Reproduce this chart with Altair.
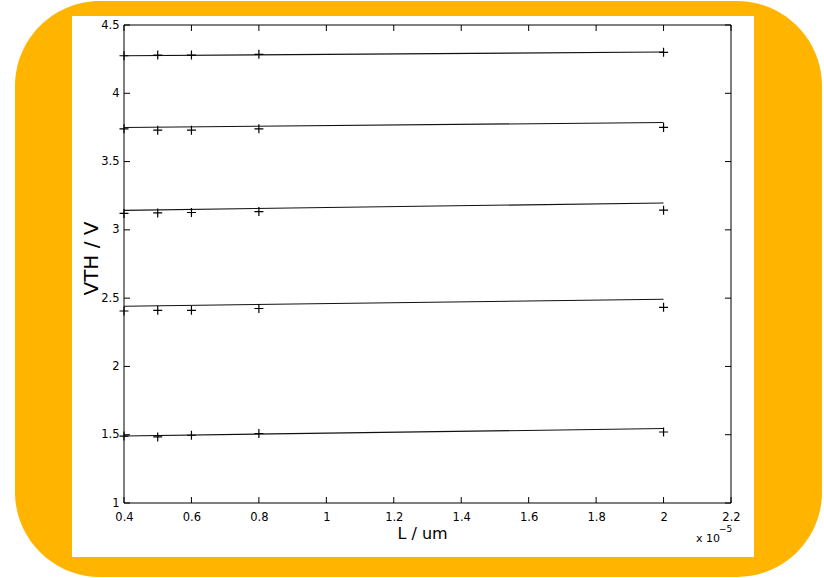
import altair as alt
import pandas as pd

# ---- data ----
x_meas = [0.4, 0.5, 0.6, 0.8, 2.0]
meas_1 = [4.275, 4.28, 4.28, 4.285, 4.30]
meas_2 = [3.74, 3.73, 3.73, 3.74, 3.75]
meas_3 = [3.12, 3.124, 3.127, 3.134, 3.144]
meas_4 = [2.406, 2.411, 2.411, 2.424, 2.433]
meas_5 = [1.49, 1.484, 1.496, 1.509, 1.52]

x_fit = [0.4, 2.0]
fit_1 = [4.275, 4.302]
fit_2 = [3.75, 3.786]
fit_3 = [3.143, 3.197]
fit_4 = [2.441, 2.492]
fit_5 = [1.491, 1.545]

x_ticks = [0.4, 0.6, 0.8, 1.0, 1.2, 1.4, 1.6, 1.8, 2.0, 2.2]
y_ticks = [1.0, 1.5, 2.0, 2.5, 3.0, 3.5, 4.0, 4.5]

meas = [meas_1, meas_2, meas_3, meas_4, meas_5]
fits = [fit_1, fit_2, fit_3, fit_4, fit_5]

meas_df = pd.DataFrame(
    [{"L": x, "VTH": v, "s": i} for i, vals in enumerate(meas) for x, v in zip(x_meas, vals)]
)
fit_df = pd.DataFrame(
    [{"L": x, "VTH": v, "s": i} for i, vals in enumerate(fits) for x, v in zip(x_fit, vals)]
)
xt_df = pd.DataFrame({"t": x_ticks})
yt_df = pd.DataFrame({"t": y_ticks})
one = pd.DataFrame({"a": [0]})

W, H = 607, 478
FONT = "DejaVu Sans"

xs = alt.Scale(domain=[0.4, 2.2], nice=False, zero=False)
ys = alt.Scale(domain=[1, 4.5], nice=False, zero=False)

x_axis = alt.Axis(
    values=x_ticks, format="~g", ticks=False, tickSize=0, domain=False, grid=False,
    labelPadding=8, labelFont=FONT, labelFontSize=11.5, labelColor="black",
    title="L / um", titleFont=FONT, titleFontSize=16, titleFontWeight="normal",
    titleColor="black", titleX=298, titleY=35, titleBaseline="alphabetic",
    titleAlign="center", labelFlush=False, zindex=1,
)
y_axis = alt.Axis(
    values=y_ticks, format="~g", ticks=False, tickSize=0, domain=False, grid=False,
    labelPadding=5, labelFont=FONT, labelFontSize=11.5, labelColor="black",
    title="VTH / V", titleFont=FONT, titleFontSize=20, titleFontWeight="normal",
    titleColor="black", titleX=-27, titleY=233, titleBaseline="alphabetic",
    titleAlign="center", labelFlush=False, zindex=1,
)

orange = alt.Chart(one).mark_rect(color="#FFB400", cornerRadius=85).encode(
    x=alt.value(15 - 124), x2=alt.value(822 - 124),
    y=alt.value(1 - 25), y2=alt.value(577 - 25),
)
white = alt.Chart(one).mark_rect(color="white").encode(
    x=alt.value(72 - 124), x2=alt.value(754 - 124),
    y=alt.value(16 - 25), y2=alt.value(557 - 25),
)
frame = alt.Chart(one).mark_rect(fill=None, stroke="black", strokeWidth=1).encode(
    x=alt.value(0), x2=alt.value(W), y=alt.value(0), y2=alt.value(H),
)

lines = alt.Chart(fit_df).mark_line(color="#111111", strokeWidth=1.1).encode(
    x=alt.X("L:Q", scale=xs, axis=x_axis),
    y=alt.Y("VTH:Q", scale=ys, axis=y_axis),
    detail="s:N",
)
points = alt.Chart(meas_df).mark_point(
    shape="M-1,0L1,0M0,-1L0,1", size=81, filled=False, color="black", strokeWidth=1.2, opacity=1
).encode(
    x=alt.X("L:Q", scale=xs, axis=x_axis),
    y=alt.Y("VTH:Q", scale=ys, axis=y_axis),
)

TL = 6
bot_ticks = alt.Chart(xt_df).mark_rule(color="black", strokeWidth=1).encode(
    x=alt.X("t:Q", scale=xs, axis=x_axis), y=alt.value(H), y2=alt.value(H - TL))
top_ticks = alt.Chart(xt_df).mark_rule(color="black", strokeWidth=1).encode(
    x=alt.X("t:Q", scale=xs, axis=x_axis), y=alt.value(0), y2=alt.value(TL))
left_ticks = alt.Chart(yt_df).mark_rule(color="black", strokeWidth=1).encode(
    y=alt.Y("t:Q", scale=ys, axis=y_axis), x=alt.value(0), x2=alt.value(TL))
right_ticks = alt.Chart(yt_df).mark_rule(color="black", strokeWidth=1).encode(
    y=alt.Y("t:Q", scale=ys, axis=y_axis), x=alt.value(W), x2=alt.value(W - TL))

mult = alt.Chart(one).mark_text(
    text="x 10", font=FONT, fontSize=11, align="left", baseline="alphabetic", color="black"
).encode(x=alt.value(696 - 124), y=alt.value(542 - 25))
expo = alt.Chart(one).mark_text(
    text="−5", font=FONT, fontSize=9, align="left", baseline="alphabetic", color="black"
).encode(x=alt.value(719 - 124), y=alt.value(532 - 25))

chart = alt.layer(
    orange, white, frame, bot_ticks, top_ticks, left_ticks, right_ticks,
    lines, points, mult, expo,
).properties(
    width=W, height=H,
    autosize=alt.AutoSizeParams(type="none"),
    padding={"left": 124, "top": 25, "right": 824 - 124 - W, "bottom": 578 - 25 - H},
).configure(background="white").configure_view(stroke=None)

chart.save("out.html", embed_options={"renderer": "svg", "actions": False})
